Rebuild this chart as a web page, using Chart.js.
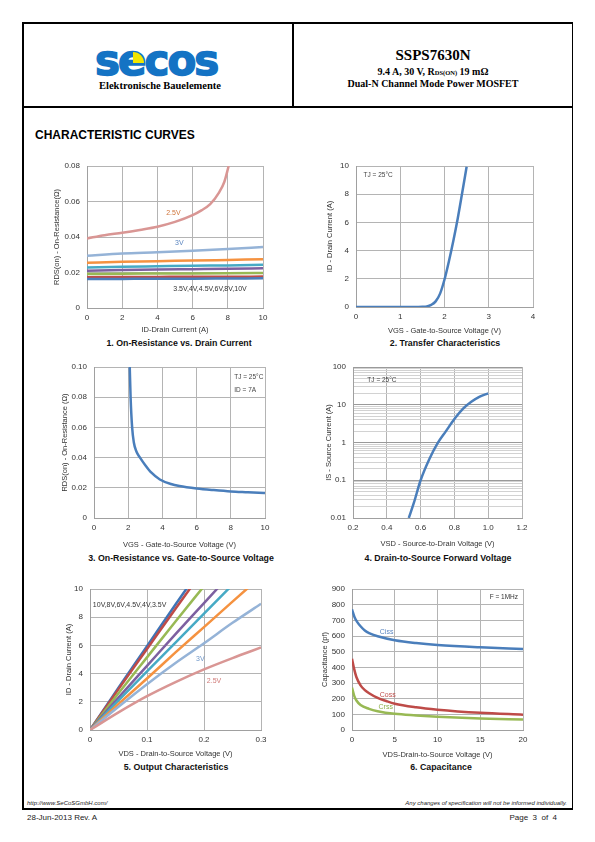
<!DOCTYPE html>
<html>
<head>
<meta charset="utf-8">
<script src="https://cdn.jsdelivr.net/npm/chart.js@4.4.0/dist/chart.umd.min.js"></script>
<style>
  body { margin: 0; width: 595px; height: 842px; position: relative; background: #fff; font-family: "Liberation Sans", Arial, sans-serif; overflow: hidden; }
  .t { position: absolute; white-space: nowrap; line-height: 1; }
  .ln { position: absolute; background: #000; }
  .serif { font-family: "Liberation Serif", "Times New Roman", serif; font-weight: bold; }
  .cap { font-weight: bold; font-size: 8.8px; color: #111; transform: translateX(-50%); }
  canvas { position: absolute; }
</style>
</head>
<body>

<!-- frame -->
<div class="ln" style="left:22px;top:22px;width:551px;height:2px"></div>
<div class="ln" style="left:22px;top:106px;width:551px;height:2px"></div>
<div class="ln" style="left:22px;top:808px;width:551px;height:2px"></div>
<div class="ln" style="left:22px;top:22px;width:1.5px;height:788px"></div>
<div class="ln" style="left:571.5px;top:22px;width:1.5px;height:788px"></div>
<div class="ln" style="left:292px;top:22px;width:1.5px;height:85px"></div>

<!-- header -->
<div class="t" style="left:95px;top:36px;font:bold 42px 'DejaVu Sans',sans-serif;color:#1473c4;letter-spacing:-2px;-webkit-text-stroke:1.5px #1473c4">secos</div>
<div style="position:absolute;left:133px;top:52px;width:11px;height:11px;background:#f2e600;border-radius:0 11px 0 0"></div>
<div class="t serif" style="left:160px;top:81px;font-size:10.5px;transform:translateX(-50%)">Elektronische Bauelemente</div>
<div class="t serif" style="left:433px;top:48px;font-size:15px;transform:translateX(-50%)">SSPS7630N</div>
<div class="t serif" style="left:433px;top:67px;font-size:10px;transform:translateX(-50%)">9.4 A, 30 V, R<span style="font-size:6.5px">DS(ON)</span> 19 mΩ</div>
<div class="t serif" style="left:433px;top:79px;font-size:10px;transform:translateX(-50%)">Dual-N Channel Mode Power MOSFET</div>

<div class="t" style="left:35px;top:129px;font-size:12px;font-weight:bold">CHARACTERISTIC CURVES</div>

<!-- captions -->
<div class="t cap" style="left:179px;top:339px">1. On-Resistance vs. Drain Current</div>
<div class="t cap" style="left:445px;top:339px">2. Transfer Characteristics</div>
<div class="t cap" style="left:181px;top:554px">3. On-Resistance vs. Gate-to-Source Voltage</div>
<div class="t cap" style="left:438px;top:554px">4. Drain-to-Source Forward Voltage</div>
<div class="t cap" style="left:176px;top:763px">5. Output Characteristics</div>
<div class="t cap" style="left:441px;top:763px">6. Capacitance</div>

<!-- footer -->
<div class="t" style="left:27px;top:800px;font-size:6px;font-style:italic;color:#222">http://www.SeCoSGmbH.com/</div>
<div class="t" style="right:28px;top:800px;font-size:6px;font-style:italic;color:#222">Any changes of specification will not be informed individually.</div>
<div class="t" style="left:27px;top:814px;font-size:8px;color:#222">28-Jun-2013 Rev. A</div>
<div class="t" style="right:38px;top:814px;font-size:8px;color:#222">Page&nbsp; 3&nbsp; of&nbsp; 4</div>

<script>
// ---------- 1. On-Resistance vs. Drain Current ----------
const idAxis = [0, 2, 4, 6, 8, 10];
const rds10V = [0.0163, 0.0164, 0.0165, 0.0165, 0.0166, 0.0167];
const rds8V  = [0.0173, 0.0174, 0.0175, 0.0176, 0.0176, 0.0177];
const rds6V  = [0.0191, 0.0193, 0.0194, 0.0195, 0.0196, 0.0197];
const rds45V = [0.0210, 0.0214, 0.0217, 0.0219, 0.0221, 0.0224];
const rds4V  = [0.0228, 0.0232, 0.0235, 0.0238, 0.0240, 0.0243];
const rds35V = [0.0255, 0.0260, 0.0264, 0.0267, 0.0271, 0.0275];
const rds3V  = [0.0295, 0.0307, 0.0314, 0.0322, 0.0332, 0.0343];
const id25V  = [0, 1, 2, 3, 4, 5, 6, 6.5, 7, 7.5, 7.8, 8.05];
const rds25V = [0.0392, 0.041, 0.0424, 0.044, 0.0458, 0.0485, 0.0523, 0.055, 0.0585, 0.065, 0.071, 0.08];

// ---------- 2. Transfer Characteristics ----------
const vgsTransfer = [0, 1, 1.4, 1.5, 1.6, 1.7, 1.8, 1.9, 2.0, 2.1, 2.2, 2.3, 2.4, 2.5];
const idTransfer  = [0, 0, 0.003, 0.01, 0.04, 0.15, 0.4, 0.95, 1.95, 3.25, 4.7, 6.3, 8.1, 9.95];

// ---------- 3. On-Resistance vs. Gate-to-Source Voltage ----------
const vgsRds = [2.09, 2.14, 2.23, 2.33, 2.48, 2.69, 3.0, 3.36, 3.85, 4.5, 5.0, 6.0, 7.0, 8.0, 9.0, 10.0];
const rdsVgs = [0.1, 0.08, 0.06, 0.05, 0.044, 0.04, 0.035, 0.03, 0.0255, 0.0225, 0.0212, 0.0196, 0.0185, 0.0176, 0.0171, 0.0166];

// ---------- 4. Drain-to-Source Forward Voltage ----------
const vsdDiode = [0.53, 0.56, 0.6, 0.65, 0.7, 0.75, 0.8, 0.85, 0.9, 0.95, 1.0];
const isDiode  = [0.01, 0.025, 0.1, 0.35, 0.95, 2.0, 4.2, 7.8, 12, 16.5, 20];
const logTickLabels = ['0.01', '0.1', '1', '10', '100'];

// ---------- 5. Output Characteristics ----------
const vdsOut = [0, 0.05, 0.1, 0.15, 0.2, 0.25, 0.3];
const id10V = [0, 3.0, 5.95, 8.9, 11.8];
const id8V  = [0, 2.9, 5.75, 8.6, 11.4];
const id6V  = [0, 2.6, 5.15, 7.7, 10.2];
const id45V = [0, 2.3, 4.55, 6.8, 9.0, 11.2];
const id4V  = [0, 2.1, 4.15, 6.2, 8.25, 10.3];
const id35V = [0, 1.85, 3.65, 5.5, 7.3, 9.1, 10.9];
const id3V  = [0, 1.65, 3.25, 4.75, 6.15, 7.6, 8.95];
const id25  = [0, 1.25, 2.4, 3.4, 4.3, 5.1, 5.85];

// ---------- 6. Capacitance ----------
const vdsCiss = [0, 0.3, 0.6, 1, 1.5, 2, 3, 5, 7.5, 10, 15, 20];
const ciss    = [770, 720, 690, 662, 635, 618, 598, 573, 555, 543, 528, 517];
const vdsCoss = [0, 0.25, 0.5, 1, 1.5, 2, 3, 4, 5, 7.5, 10, 15, 20];
const coss    = [455, 390, 340, 285, 255, 235, 205, 185, 168, 145, 130, 110, 98];
const vdsCrss = [0, 0.25, 0.5, 1, 2, 3, 5, 7.5, 10, 15, 20];
const crss    = [270, 220, 190, 160, 135, 120, 103, 93, 85, 74, 67];

// colours (Excel style)
const C = {
  blue: '#4a7ebb', red: '#be4b48', green: '#98b954', purple: '#7d60a0',
  teal: '#46aac5', orange: '#f59240', ltblue: '#95b3d7', pink: '#d99694'
};

const pts = (xs, ys) => ys.map((y, i) => ({ x: xs[i], y: y }));

function line(xs, ys, color) {
  return {
    data: pts(xs, ys), borderColor: color, borderWidth: 2.5,
    pointRadius: 0, showLine: true, fill: false, tension: 0.4,
    cubicInterpolationMode: 'monotone'
  };
}

// text labels placed inside the plot, in data coords
const notesPlugin = {
  id: 'notes',
  afterDatasetsDraw(chart, args, opts) {
    const { ctx } = chart;
    const x = chart.scales.x, y = chart.scales.y;
    (opts.items || []).forEach(n => {
      ctx.save();
      if (n.box) {
        ctx.fillStyle = '#fff';
        ctx.fillRect(n.box[0], n.box[1], n.box[2], n.box[3]);
      }
      ctx.font = (n.size || 7) + 'px "Liberation Sans", Arial, sans-serif';
      ctx.fillStyle = n.color || '#333';
      ctx.textBaseline = 'middle';
      ctx.fillText(n.text, x.getPixelForValue(n.x), y.getPixelForValue(n.y));
      ctx.restore();
    });
  }
};

const TICK_FONT = { family: 'Liberation Sans', size: 8 };
const TITLE_FONT = { family: 'Liberation Sans', size: 7.5, lineHeight: 1.2 };
const GRID = '#b4b4b4';

function axis(min, max, step, title, extra) {
  return Object.assign({
    type: 'linear', min: min, max: max,
    ticks: { stepSize: step, font: TICK_FONT, color: '#333', padding: 5 },
    grid: { color: GRID, drawTicks: false },
    border: { color: '#a0a0a0' },
    title: { display: true, text: title, font: TITLE_FONT, color: '#333' }
  }, extra || {});
}

// box = plot area in page px, plus where the axis titles sit
function makeChart(box, xAx, yAx, datasets, notes) {
  const left = box.yTitleX - 10, top = box.T - 12;
  const width = box.R + 14 - left, height = box.xTitleY + 8 - top;
  const yW = box.L - left, xH = height - 12 - (box.B - box.T);
  const cv = document.createElement('canvas');
  cv.width = width; cv.height = height;
  cv.style.left = left + 'px'; cv.style.top = top + 'px';
  cv.style.width = width + 'px'; cv.style.height = height + 'px';
  document.body.appendChild(cv);

  xAx.ticks.padding = 5;
  xAx.title.padding = { top: 0, bottom: 3.5 };
  xAx.afterFit = s => { s.height = xH; };
  yAx.ticks.padding = 7;
  yAx.title.padding = { top: 5.5, bottom: 0 };
  yAx.afterFit = s => { s.width = yW; };

  return new Chart(cv, {
    type: 'scatter',
    data: { datasets: datasets },
    options: {
      responsive: false, animation: false,
      layout: { padding: { top: 12, right: 14, left: 0, bottom: 0 } },
      scales: { x: xAx, y: yAx },
      plugins: { legend: { display: false }, tooltip: { enabled: false }, notes: { items: notes || [] } }
    },
    plugins: [notesPlugin]
  });
}

// 1
makeChart({ L: 87, R: 263, T: 166, B: 308, yTitleX: 57, xTitleY: 330 },
  axis(0, 10, 2, 'ID-Drain Current (A)'),
  axis(0, 0.08, 0.02, 'RDS(on) - On-Resistance(Ω)'),
  [
    line(idAxis, rds10V, C.blue), line(idAxis, rds8V, C.red), line(idAxis, rds6V, C.green),
    line(idAxis, rds45V, C.purple), line(idAxis, rds4V, C.teal), line(idAxis, rds35V, C.orange),
    line(idAxis, rds3V, C.ltblue), line(id25V, rds25V, C.pink)
  ],
  [
    { text: '2.5V', x: 4.5, y: 0.0535, color: '#d0743a' },
    { text: '3V', x: 5.0, y: 0.0366, color: '#5b86c0' },
    { text: '3.5V,4V,4.5V,6V,8V,10V', x: 4.9, y: 0.0107, color: '#333' }
  ]);

// 2
makeChart({ L: 356, R: 533, T: 166, B: 307, yTitleX: 330, xTitleY: 331 },
  axis(0, 4, 1, 'VGS - Gate-to-Source Voltage (V)'),
  axis(0, 10, 2, 'ID - Drain Current (A)'),
  [line(vgsTransfer, idTransfer, C.blue)],
  [{ text: 'TJ = 25°C', x: 0.17, y: 9.35, color: '#444', size: 6.5 }]);

// 3
makeChart({ L: 94, R: 265, T: 367, B: 518, yTitleX: 65, xTitleY: 545 },
  axis(0, 10, 2, 'VGS - Gate-to-Source Voltage (V)'),
  axis(0, 0.1, 0.02, 'RDS(on) - On-Resistance (Ω)'),
  [line(vgsRds, rdsVgs, C.blue)],
  [
    { text: 'TJ = 25°C', x: 8.2, y: 0.0935, color: '#444', size: 6.5, box: [229, 7, 35, 30] },
    { text: 'ID = 7A', x: 8.2, y: 0.0848, color: '#444', size: 6.5 }
  ]);

// 4
const xVsd = axis(0.2, 1.2, 0.2, 'VSD - Source-to-Drain Voltage (V)');
const yIs = axis(0.01, 100, null, 'IS - Source Current (A)');
yIs.type = 'logarithmic';
yIs.ticks = {
  font: TICK_FONT, color: '#333', autoSkip: false,
  callback: v => {
    const e = Math.log10(v);
    return Math.abs(e - Math.round(e)) < 1e-6 ? logTickLabels[Math.round(e) + 2] : '';
  }
};
yIs.afterBuildTicks = s => {
  s.ticks = s.ticks.filter(t => {
    const m = t.value / Math.pow(10, Math.floor(Math.log10(t.value) + 1e-9));
    return Math.abs(m - 1.5) > 1e-6;
  });
};
yIs.grid = {
  drawTicks: false,
  color: c => (c.tick && c.tick.major ? '#9a9a9a' : '#d2d2d2')
};
makeChart({ L: 353, R: 522, T: 367, B: 518, yTitleX: 329, xTitleY: 544 },
  xVsd, yIs,
  [line(vsdDiode, isDiode, C.blue)],
  [{ text: 'TJ = 25°C', x: 0.285, y: 45, color: '#444', size: 6.5 }]);

// 5
makeChart({ L: 90, R: 261, T: 589, B: 730, yTitleX: 69, xTitleY: 754 },
  axis(0, 0.3, 0.1, 'VDS - Drain-to-Source Voltage (V)'),
  axis(0, 10, 2, 'ID - Drain Current (A)'),
  [
    line(vdsOut, id25, C.pink), line(vdsOut, id3V, C.ltblue), line(vdsOut, id35V, C.orange),
    line(vdsOut, id4V, C.teal), line(vdsOut, id45V, C.purple), line(vdsOut, id6V, C.green),
    line(vdsOut, id8V, C.red), line(vdsOut, id10V, '#3f74b6')
  ],
  [
    { text: '10V,8V,6V,4.5V,4V,3.5V', x: 0.005, y: 8.85, color: '#333' },
    { text: '3V', x: 0.186, y: 5.05, color: '#6f97c9' },
    { text: '2.5V', x: 0.205, y: 3.5, color: '#d07a78' }
  ]);

// 6
makeChart({ L: 352, R: 523, T: 589, B: 730, yTitleX: 325, xTitleY: 755 },
  axis(0, 20, 5, 'VDS-Drain-to-Source Voltage (V)'),
  axis(0, 900, 100, 'Capacitance (pf)'),
  [line(vdsCiss, ciss, C.blue), line(vdsCoss, coss, C.red), line(vdsCrss, crss, C.green)],
  [
    { text: 'F = 1MHz', x: 16.1, y: 850, color: '#333', size: 6.5 },
    { text: 'Ciss', x: 3.25, y: 628, color: '#5b86c0' },
    { text: 'Coss', x: 3.25, y: 225, color: '#c0504d' },
    { text: 'Crss', x: 3.1, y: 148, color: '#8db04c' }
  ]);
</script>
</body>
</html>
